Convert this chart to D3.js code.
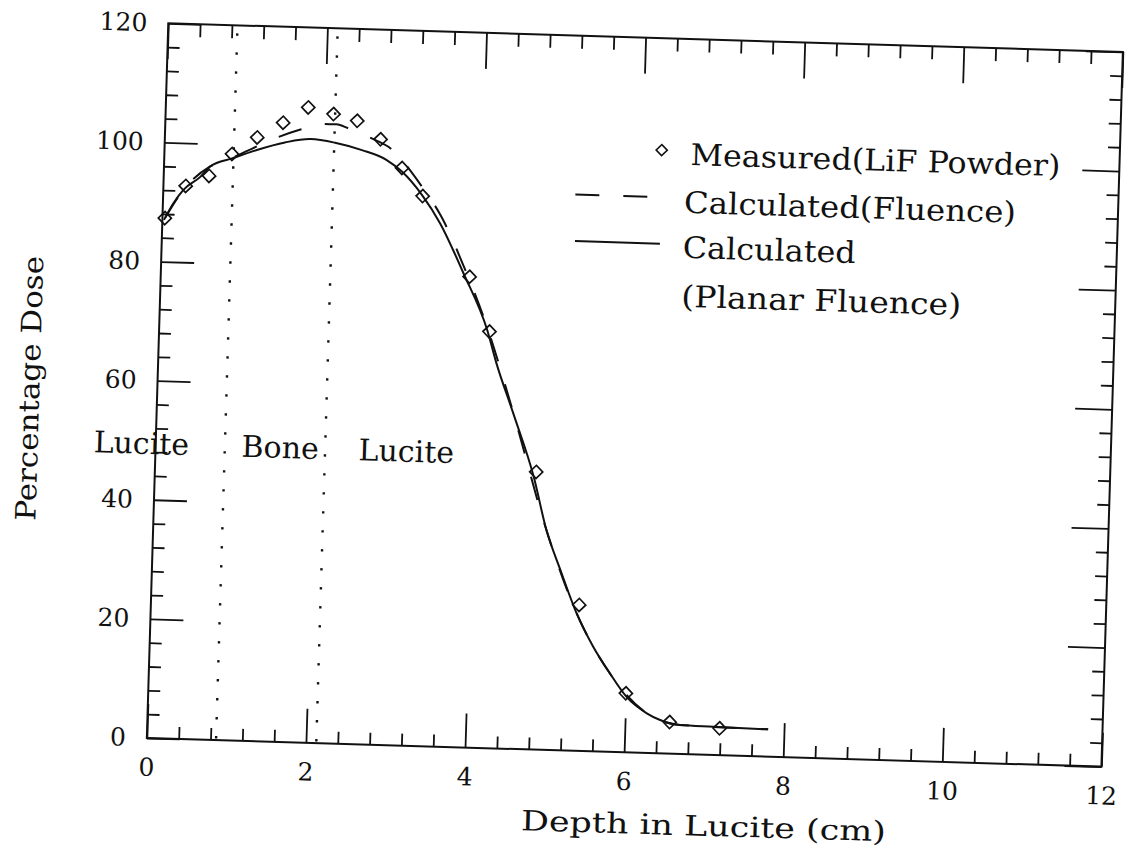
<!DOCTYPE html>
<html>
<head>
<meta charset="utf-8">
<script src="https://cdn.jsdelivr.net/npm/d3@7"></script>
<style>
  body { margin: 0; background: #fff; }
  svg { display: block; }
  text { font-family: "DejaVu Serif", serif; fill: #111; }
</style>
</head>
<body>
<svg id="chart" width="1128" height="854"></svg>
<script>
// Depth-dose data for a Lucite / bone / Lucite phantom
const measuredDepth = [0.03, 0.28, 0.57, 0.85, 1.16, 1.48, 1.79, 2.11, 2.41, 2.71, 2.99, 3.26, 3.88, 4.15, 4.79, 5.38, 6.00, 6.56, 7.19];
const measuredDose  = [87.3, 92.8, 94.6, 98.4, 101.3, 103.9, 106.6, 105.6, 104.6, 101.6, 96.9, 92.3, 79.0, 69.9, 46.6, 24.5, 9.9, 5.3, 4.5];

const fluenceDepth = [0.02, 0.25, 0.58, 0.86, 1.16, 1.43, 1.69, 1.99, 2.15, 2.30, 2.62, 2.86, 3.00, 3.24, 3.50, 3.80, 4.12, 4.48, 4.94, 5.35, 5.79, 6.27, 6.69, 7.80];
const fluenceDose  = [87.0, 92.1, 96.2, 97.8, 99.8, 101.5, 102.8, 103.9, 103.9, 103.3, 101.6, 99.9, 98.0, 94.0, 89.0, 80.8, 70.6, 56.4, 36.9, 23.1, 13.2, 6.66, 4.87, 4.58];

const planarDepth = [0.02, 0.13, 0.25, 0.46, 0.58, 0.86, 1.16, 1.51, 1.83, 2.14, 2.48, 2.79, 2.99, 3.25, 3.49, 3.80, 4.12, 4.25, 4.48, 4.76, 4.94, 5.13, 5.35, 5.57, 5.79, 6.01, 6.27, 6.44, 6.69, 7.11, 7.80];
const planarDose  = [87.0, 89.8, 92.1, 94.4, 96.2, 97.7, 99.2, 100.6, 101.3, 100.8, 99.7, 98.2, 96.3, 92.5, 87.8, 79.6, 70.2, 64.6, 56.3, 45.8, 36.9, 30.3, 23.1, 17.6, 13.2, 9.3, 6.66, 5.6, 4.87, 4.75, 4.58];

// Layer boundaries (cm)
const boundaryDepth = [0.87, 2.13];
const regionLabels = ["Lucite", "Bone", "Lucite"];

const xTickValues = [0, 2, 4, 6, 8, 10, 12];
const xTickLabels = ["0", "2", "4", "6", "8", "10", "12"];
const yTickValues = [0, 20, 40, 60, 80, 100, 120];
const yTickLabels = ["0", "20", "40", "60", "80", "100", "120"];

const legendLabels = ["Measured(LiF Powder)", "Calculated(Fluence)", "Calculated", "(Planar Fluence)"];
const xTitle = "Depth in Lucite (cm)";
const yTitle = "Percentage Dose";

// ---------------------------------------------------------------
const W = 955, H = 715;
const ink = "#111";
const svg = d3.select("#chart");
svg.append("rect").attr("width", 1128).attr("height", 854).attr("fill", "#fff");

// the whole plot sits slightly tilted on the page
const g = svg.append("g").attr("transform", "translate(168.3,23.3) rotate(1.72)");

const x = d3.scaleLinear().domain([0, 12]).range([0, W]);
const y = d3.scaleLinear().domain([0, 120]).range([H, 0]);

const minorX = d3.range(1, 30).filter(i => i % 5).map(i => i * 0.4);
const minorY = d3.range(1, 30).filter(i => i % 5).map(i => i * 4);

function styleAxis(sel) {
  sel.select(".domain").remove();
  sel.selectAll("line").attr("stroke", ink).attr("stroke-width", 1.8);
  sel.attr("font-family", "DejaVu Serif").attr("font-size", 25);
  sel.selectAll("text").attr("fill", ink);
}

// bottom
g.append("g").attr("transform", `translate(0,${H})`)
  .call(d3.axisBottom(x).tickValues(minorX).tickSize(-12).tickFormat(""))
  .call(styleAxis);
g.append("g").attr("transform", `translate(0,${H})`)
  .call(d3.axisBottom(x).tickValues(xTickValues).tickSize(-34).tickPadding(20)
    .tickFormat((d, i) => xTickLabels[i]))
  .call(styleAxis);
// top
g.append("g")
  .call(d3.axisTop(x).tickValues(minorX).tickSize(-13).tickFormat(""))
  .call(styleAxis);
g.append("g")
  .call(d3.axisTop(x).tickValues(xTickValues).tickSize(-36).tickFormat(""))
  .call(styleAxis);
// left
g.append("g")
  .call(d3.axisLeft(y).tickValues(minorY).tickSize(-12).tickFormat(""))
  .call(styleAxis);
g.append("g")
  .call(d3.axisLeft(y).tickValues(yTickValues).tickSize(-33).tickPadding(21)
    .tickFormat((d, i) => yTickLabels[i]))
  .call(styleAxis);
// right
g.append("g").attr("transform", `translate(${W},0)`)
  .call(d3.axisRight(y).tickValues(minorY).tickSize(-12).tickFormat(""))
  .call(styleAxis);
g.append("g").attr("transform", `translate(${W},0)`)
  .call(d3.axisRight(y).tickValues(yTickValues).tickSize(-37).tickFormat(""))
  .call(styleAxis);

// frame
g.append("rect").attr("x", 0).attr("y", 0).attr("width", W).attr("height", H)
  .attr("fill", "none").attr("stroke", ink).attr("stroke-width", 2);

// layer boundaries
g.selectAll("line.boundary").data(boundaryDepth).join("line")
  .attr("class", "boundary")
  .attr("x1", d => x(d)).attr("x2", d => x(d))
  .attr("y1", 8).attr("y2", H)
  .attr("stroke", ink).attr("stroke-width", 2.4)
  .attr("stroke-dasharray", "2.4,16.6");

// region labels
const regionX = [-62, 86, 203];
g.selectAll("text.region").data(regionLabels).join("text")
  .attr("class", "region")
  .attr("x", (d, i) => regionX[i]).attr("y", 431)
  .attr("font-size", 30)
  .text(d => d);

// curves
const line = d3.line().x(d => x(d[0])).y(d => y(d[1])).curve(d3.curveMonotoneX);

g.append("path").datum(d3.zip(planarDepth, planarDose))
  .attr("d", line).attr("fill", "none").attr("stroke", ink).attr("stroke-width", 2);

const fluencePath = g.append("path").datum(d3.zip(fluenceDepth, fluenceDose))
  .attr("d", line).attr("fill", "none").attr("stroke", ink).attr("stroke-width", 2)
  .attr("stroke-dasharray", "24,24");

// start a dash where the fluence curve leaves the planar curve
(function alignDash() {
  const node = fluencePath.node();
  const total = node.getTotalLength();
  const target = x(1.43);
  let lo = 0, hi = total;
  for (let k = 0; k < 40; k++) {
    const mid = (lo + hi) / 2;
    if (node.getPointAtLength(mid).x < target) lo = mid; else hi = mid;
  }
  const period = 48;
  fluencePath.attr("stroke-dashoffset", period - (lo % period));
})();

// measured points
const diamond = d3.symbol().type(d3.symbolSquare).size(86);
g.selectAll("path.pt").data(d3.zip(measuredDepth, measuredDose)).join("path")
  .attr("class", "pt")
  .attr("d", diamond)
  .attr("transform", d => `translate(${x(d[0])},${y(d[1])}) rotate(45)`)
  .attr("fill", "none").attr("stroke", ink).attr("stroke-width", 1.7);

// legend
const lg = g.append("g");
lg.append("path").attr("d", d3.symbol().type(d3.symbolSquare).size(62))
  .attr("transform", "translate(497,112) rotate(45)")
  .attr("fill", "none").attr("stroke", ink).attr("stroke-width", 1.6);
lg.append("line").attr("x1", 412).attr("x2", 487).attr("y1", 159).attr("y2", 159)
  .attr("stroke", ink).attr("stroke-width", 2).attr("stroke-dasharray", "24,24");
lg.append("line").attr("x1", 413).attr("x2", 498).attr("y1", 205.5).attr("y2", 205.5)
  .attr("stroke", ink).attr("stroke-width", 2);
const legendPos = [[526, 126, 370], [521, 174, 332], [521, 219, 173], [521, 268, 280]];
lg.selectAll("text").data(legendLabels).join("text")
  .attr("x", (d, i) => legendPos[i][0]).attr("y", (d, i) => legendPos[i][1])
  .attr("textLength", (d, i) => legendPos[i][2])
  .attr("lengthAdjust", "spacingAndGlyphs")
  .attr("font-size", 30)
  .text(d => d);

// axis titles
g.append("text").attr("x", 559).attr("y", 796)
  .attr("text-anchor", "middle").attr("font-size", 28)
  .attr("textLength", 365).attr("lengthAdjust", "spacingAndGlyphs")
  .text(xTitle);
g.append("text")
  .attr("transform", "translate(-118,369) rotate(-90)")
  .attr("text-anchor", "middle").attr("font-size", 28)
  .attr("textLength", 265).attr("lengthAdjust", "spacingAndGlyphs")
  .text(yTitle);
</script>
</body>
</html>
